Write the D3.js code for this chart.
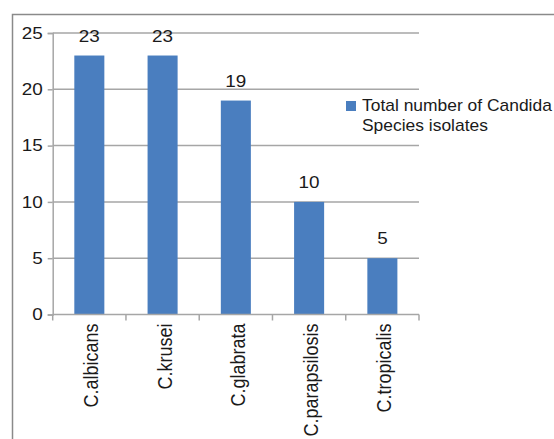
<!DOCTYPE html>
<html>
<head>
<meta charset="utf-8">
<script src="https://cdn.jsdelivr.net/npm/d3@7"></script>
<style>
  html, body { margin: 0; padding: 0; background: #fff; }
  svg { display: block; font-family: "Liberation Sans", Arial, sans-serif; }
</style>
</head>
<body>
<svg id="chart" width="554" height="439"></svg>
<script>
// Candida species isolate counts
const species = ["C.albicans", "C.krusei", "C.glabrata", "C.parapsilosis", "C.tropicalis"];
const isolates = [23, 23, 19, 10, 5];
const yTicks = [0, 5, 10, 15, 20, 25];
const legendLines = ["Total number of Candida", "Species isolates"];

const svg = d3.select("#chart");
const plot = { left: 52.7, right: 419, top: 33, bottom: 314.5 };
const barColor = "#4a7ebf";
const gridColor = "#a6a6a6";
const textColor = "#1a1a1a";
const fontSize = 16;
const wide = 1.18; // slightly widened lettering

// outer frame (runs past the right and bottom edges)
svg.append("rect")
  .attr("x", 12.5).attr("y", 14.5)
  .attr("width", 600).attr("height", 500)
  .attr("fill", "none").attr("stroke", "#8a8a8a").attr("stroke-width", 1.5);

const x = d3.scaleBand().domain(species).range([plot.left, plot.right]).paddingInner(0.59).paddingOuter(0.295);
const y = d3.scaleLinear().domain([0, 25]).range([plot.bottom, plot.top]);

// horizontal gridlines
svg.append("g").selectAll("line").data(yTicks.filter(d => d > 0)).join("line")
  .attr("x1", plot.left).attr("x2", plot.right)
  .attr("y1", d => y(d)).attr("y2", d => y(d))
  .attr("stroke", gridColor).attr("stroke-width", 1.5);

// y axis
const tickSize = 5, tickPad = 5;
const yAxis = svg.append("g").attr("transform", `translate(${plot.left},0)`)
  .call(d3.axisLeft(y).tickValues(yTicks).tickSize(tickSize).tickPadding(tickPad));
yAxis.select(".domain").attr("stroke", gridColor).attr("stroke-width", 1.5);
yAxis.selectAll(".tick line").attr("stroke", gridColor).attr("stroke-width", 1.5);
yAxis.selectAll("text")
  .attr("font-size", fontSize).attr("fill", textColor)
  .attr("font-family", "Liberation Sans, Arial, sans-serif")
  .attr("x", -(tickSize + tickPad) / wide)
  .attr("transform", `scale(${wide},1)`);

// bars
svg.append("g").selectAll("rect").data(isolates).join("rect")
  .attr("x", (d, i) => x(species[i]))
  .attr("y", d => y(d))
  .attr("width", x.bandwidth())
  .attr("height", d => y(0) - y(d))
  .attr("fill", barColor);

// value labels
svg.append("g").selectAll("text").data(isolates).join("text")
  .attr("transform", (d, i) => `translate(${x(species[i]) + x.bandwidth() / 2},${y(d) - 14}) scale(${wide},1)`)
  .attr("text-anchor", "middle")
  .attr("font-size", fontSize).attr("fill", textColor)
  .text(d => d);

// x axis with boundary ticks between categories
const bounds = d3.range(species.length + 1).map(i => plot.left + i * x.step());
const xg = svg.append("g");
xg.append("line")
  .attr("x1", plot.left).attr("x2", plot.right)
  .attr("y1", y(0)).attr("y2", y(0))
  .attr("stroke", gridColor).attr("stroke-width", 1.5);
xg.selectAll("line.tk").data(bounds).join("line").attr("class", "tk")
  .attr("x1", d => d).attr("x2", d => d)
  .attr("y1", y(0)).attr("y2", y(0) + 6)
  .attr("stroke", gridColor).attr("stroke-width", 1.5);
xg.selectAll("text").data(species).join("text")
  .attr("transform", d => `translate(${x(d) + x.bandwidth() / 2 + 9},${y(0) + 9}) scale(1.15,1) rotate(-90)`)
  .attr("text-anchor", "end")
  .attr("font-size", 18).attr("fill", textColor)
  .text(d => d);

// legend
const lg = svg.append("g");
lg.append("rect").attr("x", 346).attr("y", 101).attr("width", 10).attr("height", 10).attr("fill", barColor);
lg.selectAll("text").data(legendLines).join("text")
  .attr("transform", (d, i) => `translate(362,${110.7 + i * 20.6}) scale(1.09,1)`)
  .attr("font-size", fontSize).attr("fill", textColor)
  .text(d => d);
</script>
</body>
</html>
